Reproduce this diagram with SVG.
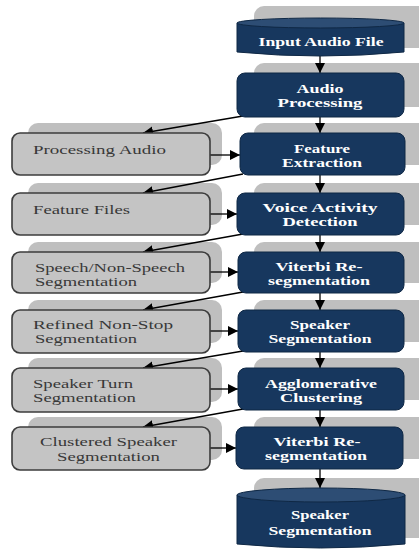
<svg xmlns="http://www.w3.org/2000/svg" width="419" height="551" viewBox="0 0 419 551">
<defs>
<marker id="ah" viewBox="0 0 10 10" refX="10" refY="5" markerWidth="10" markerHeight="10" markerUnits="userSpaceOnUse" orient="auto">
<path d="M0,0 L10,5 L0,10 z" fill="#000"/>
</marker>
<style>
.sh{fill:#bfbfbf}
.bl{fill:#17375e;stroke:#0f2845;stroke-width:1}
.gr{fill:#c4c4c4;stroke:#3c3c3c;stroke-width:1.6}
.cyltop{fill:#2d4d74;stroke:#0f2845;stroke-width:1}
.wt{font-family:"Liberation Serif",serif;font-weight:bold;font-size:12.5px;fill:#fff;text-anchor:middle}
.lt{font-family:"Liberation Serif",serif;font-size:12.5px;fill:#383838}
.c{stroke:#000;stroke-width:1.3;fill:none;marker-end:url(#ah)}
</style>
</defs>
<rect width="419" height="551" fill="#fff"/>

<g id="shadows">
<rect class="sh" x="254" y="6" width="180" height="42" rx="10"/>
<rect class="sh" x="254" y="63" width="180" height="44" rx="10"/>
<rect class="sh" x="254" y="123" width="180" height="42" rx="10"/>
<rect class="sh" x="254" y="183" width="180" height="42" rx="10"/>
<rect class="sh" x="254" y="242" width="180" height="41" rx="10"/>
<rect class="sh" x="254" y="300" width="180" height="42" rx="10"/>
<rect class="sh" x="254" y="358" width="180" height="42" rx="10"/>
<rect class="sh" x="254" y="417" width="180" height="42" rx="10"/>
<rect class="sh" x="254" y="478" width="180" height="60" rx="10"/>
<rect class="sh" x="28" y="123" width="194" height="42" rx="10"/>
<rect class="sh" x="28" y="183" width="194" height="42" rx="10"/>
<rect class="sh" x="28" y="242" width="194" height="41" rx="10"/>
<rect class="sh" x="28" y="300" width="194" height="43" rx="10"/>
<rect class="sh" x="28" y="358" width="194" height="44" rx="10"/>
<rect class="sh" x="28" y="417" width="194" height="43" rx="10"/>
</g>

<g id="connectors">
<line class="c" x1="320" y1="56" x2="320" y2="73"/>
<line class="c" x1="320" y1="117" x2="320" y2="133"/>
<line class="c" x1="320" y1="175" x2="320" y2="193"/>
<line class="c" x1="320" y1="235" x2="320" y2="252"/>
<line class="c" x1="320" y1="293" x2="320" y2="310"/>
<line class="c" x1="320" y1="352" x2="320" y2="368"/>
<line class="c" x1="320" y1="410" x2="320" y2="427"/>
<line class="c" x1="320" y1="469" x2="320" y2="488"/>
<line class="c" x1="243" y1="116" x2="143" y2="133"/>
<line class="c" x1="243" y1="174" x2="143" y2="193"/>
<line class="c" x1="243" y1="234" x2="143" y2="252"/>
<line class="c" x1="243" y1="292" x2="143" y2="310"/>
<line class="c" x1="243" y1="351" x2="143" y2="368"/>
<line class="c" x1="243" y1="409" x2="143" y2="427"/>
<line class="c" x1="210" y1="155" x2="240" y2="155"/>
<line class="c" x1="210" y1="214" x2="237" y2="214"/>
<line class="c" x1="210" y1="272" x2="238" y2="272"/>
<line class="c" x1="210" y1="331" x2="238" y2="331"/>
<line class="c" x1="210" y1="389" x2="238" y2="389"/>
<line class="c" x1="210" y1="448" x2="236" y2="448"/>
</g>

<g id="input-audio-file">
<path class="bl" d="M237,23 L237,52 Q320,60 404,52 L404,23 Z"/>
<ellipse class="cyltop" cx="320.5" cy="23" rx="83.5" ry="5"/>
<text class="wt" x="321" y="46" textLength="125" lengthAdjust="spacingAndGlyphs">Input Audio File</text>
</g>
<g id="audio-processing">
<rect class="bl" x="237" y="73" width="167" height="44" rx="8"/>
<text class="wt" x="320" y="93" textLength="47" lengthAdjust="spacingAndGlyphs">Audio</text>
<text class="wt" x="320" y="107" textLength="85" lengthAdjust="spacingAndGlyphs">Processing</text>
</g>
<g id="feature-extraction">
<rect class="bl" x="240" y="133" width="165" height="42" rx="8"/>
<text class="wt" x="322" y="153" textLength="56" lengthAdjust="spacingAndGlyphs">Feature</text>
<text class="wt" x="322" y="167" textLength="80" lengthAdjust="spacingAndGlyphs">Extraction</text>
</g>
<g id="voice-activity-detection">
<rect class="bl" x="237" y="193" width="167" height="42" rx="8"/>
<text class="wt" x="320" y="212" textLength="115" lengthAdjust="spacingAndGlyphs">Voice Activity</text>
<text class="wt" x="320" y="226" textLength="75" lengthAdjust="spacingAndGlyphs">Detection</text>
</g>
<g id="viterbi-1">
<rect class="bl" x="238" y="252" width="166" height="41" rx="8"/>
<text class="wt" x="319" y="271" textLength="87" lengthAdjust="spacingAndGlyphs">Viterbi Re-</text>
<text class="wt" x="319" y="285" textLength="102" lengthAdjust="spacingAndGlyphs">segmentation</text>
</g>
<g id="speaker-seg">
<rect class="bl" x="238" y="310" width="166" height="42" rx="8"/>
<text class="wt" x="320" y="329" textLength="60" lengthAdjust="spacingAndGlyphs">Speaker</text>
<text class="wt" x="320" y="343" textLength="103" lengthAdjust="spacingAndGlyphs">Segmentation</text>
</g>
<g id="agglomerative">
<rect class="bl" x="238" y="368" width="166" height="42" rx="8"/>
<text class="wt" x="321" y="388" textLength="112" lengthAdjust="spacingAndGlyphs">Agglomerative</text>
<text class="wt" x="321" y="402" textLength="82" lengthAdjust="spacingAndGlyphs">Clustering</text>
</g>
<g id="viterbi-2">
<rect class="bl" x="236" y="427" width="167" height="42" rx="8"/>
<text class="wt" x="317" y="446" textLength="87" lengthAdjust="spacingAndGlyphs">Viterbi Re-</text>
<text class="wt" x="316" y="460" textLength="102" lengthAdjust="spacingAndGlyphs">segmentation</text>
</g>
<g id="speaker-segmentation">
<path class="bl" d="M237,495 L237,544 Q320,552 405,544 L405,495 Z"/>
<ellipse class="cyltop" cx="321" cy="495" rx="84" ry="7"/>
<text class="wt" x="320" y="519" textLength="58" lengthAdjust="spacingAndGlyphs">Speaker</text>
<text class="wt" x="320" y="535" textLength="103" lengthAdjust="spacingAndGlyphs">Segmentation</text>
</g>

<g id="processing-audio">
<rect class="gr" x="12" y="133" width="198" height="42" rx="8"/>
<text class="lt" x="33" y="154" textLength="133" lengthAdjust="spacingAndGlyphs">Processing Audio</text>
</g>
<g id="feature-files">
<rect class="gr" x="12" y="193" width="198" height="42" rx="8"/>
<text class="lt" x="33" y="214" textLength="97" lengthAdjust="spacingAndGlyphs">Feature Files</text>
</g>
<g id="speech-nonspeech">
<rect class="gr" x="12" y="252" width="198" height="41" rx="8"/>
<text class="lt" x="35" y="272" textLength="150" lengthAdjust="spacingAndGlyphs">Speech/Non-Speech</text>
<text class="lt" x="35" y="286" textLength="102" lengthAdjust="spacingAndGlyphs">Segmentation</text>
</g>
<g id="refined-nonstop">
<rect class="gr" x="12" y="310" width="198" height="43" rx="8"/>
<text class="lt" x="33" y="329" textLength="140" lengthAdjust="spacingAndGlyphs">Refined Non-Stop</text>
<text class="lt" x="35" y="343" textLength="102" lengthAdjust="spacingAndGlyphs">Segmentation</text>
</g>
<g id="speaker-turn">
<rect class="gr" x="12" y="368" width="198" height="44" rx="8"/>
<text class="lt" x="33" y="388" textLength="100" lengthAdjust="spacingAndGlyphs">Speaker Turn</text>
<text class="lt" x="33" y="402" textLength="103" lengthAdjust="spacingAndGlyphs">Segmentation</text>
</g>
<g id="clustered-speaker">
<rect class="gr" x="12" y="427" width="198" height="43" rx="8"/>
<text class="lt" x="40" y="446" textLength="137" lengthAdjust="spacingAndGlyphs">Clustered Speaker</text>
<text class="lt" x="57" y="461" textLength="103" lengthAdjust="spacingAndGlyphs">Segmentation</text>
</g>
</svg>
